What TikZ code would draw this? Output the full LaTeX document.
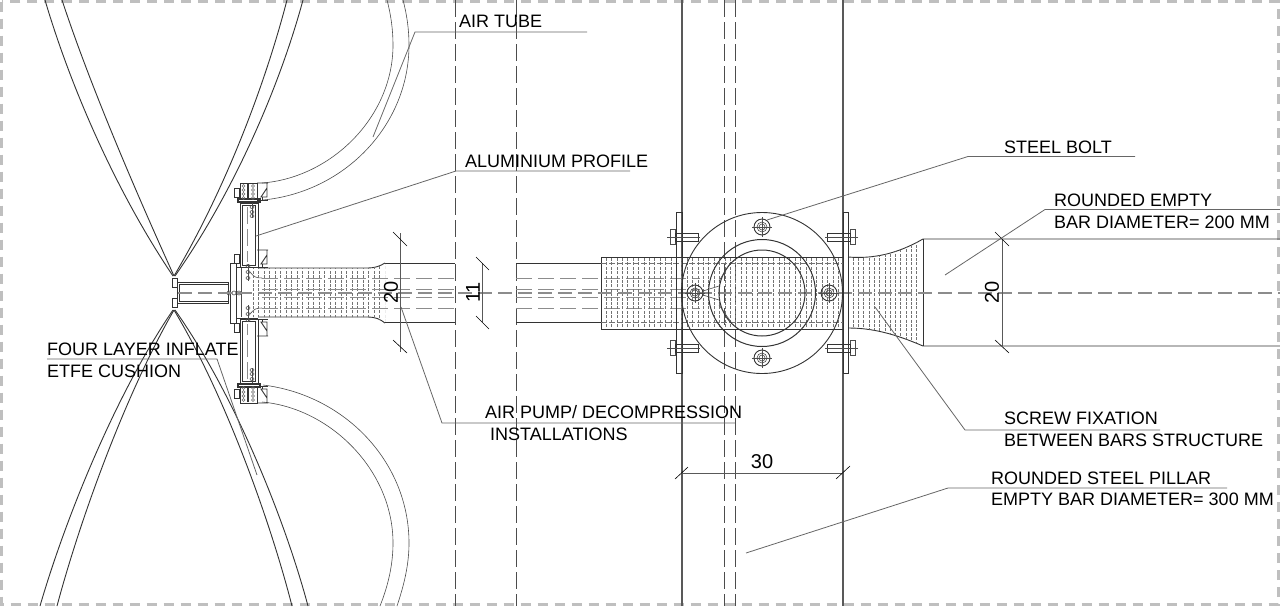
\documentclass[tikz,border=0pt]{standalone}
\usepackage{fontspec}
\setmainfont{Liberation Sans}
\usetikzlibrary{calc}

\begin{document}
\begin{tikzpicture}[
        x=1pt, y=-1pt,
        plan/.style={draw=black!80, line width=0.9pt},
        thin plan/.style={draw=black!70, line width=0.6pt},
        leader/.style={draw=black!60, line width=0.8pt},
        dimline/.style={draw=black!65, line width=1pt},
        dimtick/.style={draw=black, line width=0.6pt},
        axisline/.style={draw=black!45, line width=1.2pt, dash pattern=on 14pt off 6pt},
        hiddenline/.style={draw=black!70, line width=0.8pt, dash pattern=on 17pt off 5pt},
        barhidden/.style={draw=black!45, line width=1pt, dash pattern=on 16pt off 6pt},
        hatchline/.style={draw=black!55, line width=0.45pt, dash pattern=on 3pt off 1.4pt},
        label/.style={anchor=base west, inner sep=0pt, font=\fontsize{18}{18}\selectfont, text=black},
        dimtext/.style={inner sep=0pt, font=\fontsize{20}{20}\selectfont, text=black},
        boltmark/.pic={
            \draw[plan] (0,0) circle (8pt);
            \draw[thin plan] (0,0) circle (5pt) (0,0) circle (3pt);
            \draw[thin plan] (-10,0) -- (10,0) (0,-10) -- (0,10);
        },
        tiebolt/.pic={
            \draw[thin plan, fill=white] (-6,-8) rectangle (-1,7);
            \draw[plan] (-1,-4) rectangle (22,4);
            \draw[thin plan] (-9,0) -- (24,0);
        },
        clampset/.pic={
            % clamp with the tube ends
            \draw[plan] (240,183) rectangle (257,199);
            \draw[plan, line width=1.3pt] (238,199) -- (260,199) -- (260,202) -- (238,202) -- cycle;
            \draw[plan, line width=1.3pt] (248,184) -- (248,198);
            \draw[plan] (234,188) rectangle (239,197);
            \foreach \rowy in {186,190,194,198}
                \draw[black!60, line width=0.5pt] (243.5,\rowy) circle (1.5pt) (253,\rowy) circle (1.5pt);
            % aluminium profile
            \draw[plan] (240,203) rectangle (258,267);
            \draw[plan] (242,205) rectangle (255,265);
            \draw[hiddenline, draw=black!45, line width=1pt] (247,207) -- (247,262);
            \draw[thin plan] (252,203) -- (252,218);
            \foreach \rowy in {207,212,216}
                \draw[thin plan] (252,\rowy) ellipse (2pt and 1.5pt);
            \draw[thin plan] (248,264) -- (248,281);
            \foreach \rowy in {266,272,278}
                \draw[thin plan] (248,\rowy) ellipse (2pt and 1.5pt);
            \draw[plan] (234,254) rectangle (239,263);
            \draw[thin plan] (250,272) .. controls (254,277) and (256,278) .. (262,278);
            % angle fixings
            \foreach \fixy in {183,250} {
                \draw[plan, shift={(257,\fixy)}] (0,0) -- (11,0) (10,0) -- (10,14) -- (4,14) -- (10,5);
                \draw[plan, shift={(257,\fixy)}] (0,17) -- (11,17) (5,14) -- (5,17);
            }
        }
    ]
    \useasboundingbox (0,0) rectangle (1280,606);

    % Sheet frame
    \draw[draw=black!25, line width=3pt, dash pattern=on 10pt off 7pt] (1.5,1.5) rectangle (1278,604.5);

    % Pillar and the dashed grid lines
    \draw[plan, draw=black!65, line width=1.2pt] (682,0) -- (682,606) (843,0) -- (843,606);
    \draw[hiddenline] (724,0) -- (724,606) (735,0) -- (735,606);
    \draw[hiddenline] (455,0) -- (455,606) (516,0) -- (516,606);

    % ETFE cushion layers, upper half
    \draw[plan] (45,0) .. controls (70,85) and (115,190) .. (173,276);
    \draw[plan] (62,0) .. controls (90,85) and (135,190) .. (174,276);
    \draw[plan] (287,0) .. controls (265,85) and (225,190) .. (174,276);
    \draw[plan] (303,0) .. controls (280,85) and (235,190) .. (175,276);
    % ETFE cushion layers, lower half
    \draw[plan] (40,606) .. controls (65,520) and (115,395) .. (173,310);
    \draw[plan] (57,606) .. controls (80,520) and (125,395) .. (174,310);
    \draw[plan] (292,606) .. controls (270,520) and (225,395) .. (174,310);
    \draw[plan] (308,606) .. controls (285,520) and (235,395) .. (175,310);

    % Air tubes
    \draw[thin plan] (263,200) .. controls (345,192) and (409,125) .. (409,45) .. controls (409,30) and (407,15) .. (403,0);
    \draw[thin plan] (262,183) .. controls (330,178) and (393,118) .. (393,45) .. controls (393,30) and (391,15) .. (387,0);
    \draw[thin plan] (263,385) .. controls (345,395) and (409,462) .. (409,543) .. controls (409,565) and (404,585) .. (397,606);
    \draw[thin plan] (262,402) .. controls (330,408) and (393,470) .. (393,543) .. controls (393,565) and (388,586) .. (380,606);

    % Cushion clamp and stem
    \draw[plan] (172,278) rectangle (177,287);
    \draw[plan] (172,298) rectangle (177,307);
    \draw[plan] (177,282) rectangle (228,303);
    \draw[plan] (179,284) rectangle (228,301);

    % Base plate and profiles on both sides
    \draw[plan] (230,263) rectangle (236,323);
    \draw[plan] (236,267) -- (258,267) (236,318) -- (258,318) (236,267) -- (236,318);
    \draw[thin plan] (241,268) -- (241,317);
    \pic {clampset};
    \pic[yscale=-1] at (0,586) {clampset};
    \foreach \boltx in {229,234,239}
        \draw[thin plan] (\boltx,293) circle (2pt);

    % Bar ends on the left, up to the grid line
    \draw[plan] (258,268) -- (368,268) .. controls (375,268) and (380,266) .. (385,263);
    \draw[plan] (258,317) -- (368,317) .. controls (375,317) and (380,319) .. (385,323);
    \draw[plan] (385,263) -- (455,263) (385,322) -- (455,322);
    \draw[plan] (516,263) -- (601,263) (516,322) -- (601,322);
    \begin{scope}
        \clip (250,268) -- (368,268) .. controls (375,268) and (380,266) .. (385,263)
              -- (385,323) .. controls (380,319) and (375,317) .. (368,317) -- (250,317) -- cycle;
        \foreach \hatchx in {253,258.5,...,385}
            \draw[hatchline] (\hatchx,262) -- (\hatchx,324);
    \end{scope}
    \foreach \rowy in {278,289,297,308} {
        \draw[barhidden] (262,\rowy) -- (455,\rowy);
        \draw[barhidden] (516,\rowy) -- (700,\rowy);
    }

    % Middle bar block at the pillar
    \draw[plan] (843,257) -- (601,257) -- (601,329) -- (843,329);
    \foreach \hatchx in {606,611.4,...,843}
        \draw[hatchline] (\hatchx,258) -- (\hatchx,328);
    \foreach \rowy in {263,322}
        \draw[hatchline, dash pattern=on 6pt off 2pt] (601,\rowy) -- (843,\rowy);

    % Right bar with its flare
    \draw[plan] (848,257) .. controls (873,259) and (897,254) .. (923,239) -- (1280,239);
    \draw[plan] (848,328) .. controls (873,328) and (895,334) .. (923,346) -- (1280,346);
    \draw[plan] (923,239) -- (923,346);
    \begin{scope}
        \clip (848,257) .. controls (873,259) and (897,254) .. (923,239) -- (923,346)
              .. controls (895,334) and (873,328) .. (848,328) -- cycle;
        \foreach \hatchx in {853,858.3,...,921}
            \draw[hatchline] (\hatchx,236) -- (\hatchx,349);
    \end{scope}

    % Centre axis
    \draw[axisline] (178,293) -- (1280,293);

    % Flange with ring and bolts
    \draw[plan] (762,293) circle (80.5pt);
    \draw[plan, line width=1pt] (762,293) circle (53.5pt) (762,293) circle (43pt);
    \pic at (762,227) {boltmark};
    \pic at (762,358) {boltmark};
    \pic at (695,293) {boltmark};
    \pic at (829,293) {boltmark};
    \draw[thin plan] (703,291) -- (719,286) (703,295) -- (719,300);
    \draw[thin plan] (719,281) -- (731,262) (719,305) -- (731,322);

    % Side plates with tie bolts
    \draw[plan] (676,212) rectangle (682,373);
    \draw[plan] (843,212) rectangle (848.5,373);
    \pic at (676,237) {tiebolt};
    \pic at (676,348) {tiebolt};
    \pic[xscale=-1] at (849,237) {tiebolt};
    \pic[xscale=-1] at (849,348) {tiebolt};

    % Dimensions
    \coordinate (dimA1) at (400,233);
    \coordinate (dimA2) at (400,352);
    \draw[dimline] (dimA1) -- (dimA2);
    \draw[dimtick] (393,232) -- (407,246) (393,340) -- (407,353);
    \node[dimtext, rotate=90] (dimAtext) at (391,292.5) {20};

    \coordinate (dimB1) at (482,263);
    \coordinate (dimB2) at (482,322);
    \draw[dimline] (dimB1) -- (dimB2);
    \draw[dimtick] (476,257) -- (489,270) (476,316) -- (489,329);
    \node[dimtext, rotate=90] (dimBtext) at (473,292.5) {11};

    \coordinate (dimC1) at (1002,239);
    \coordinate (dimC2) at (1002,346);
    \draw[dimline] (dimC1) -- (dimC2);
    \draw[dimtick] (995,232) -- (1009,246) (995,340) -- (1009,353);
    \node[dimtext, rotate=90] (dimCtext) at (992,292.5) {20};

    \coordinate (dimD1) at (682,473);
    \coordinate (dimD2) at (843,473);
    \draw[dimline] (dimD1) -- (dimD2);
    \draw[dimtick] (675,479) -- (688,467) (836,479) -- (850,466);
    \node[dimtext] (dimDtext) at (762,462) {30};

    % Labels
    \node[label] (tubeLabel) at (459,27) {AIR TUBE};
    \node[label] (profileLabel) at (465,167) {ALUMINIUM PROFILE};
    \node[label] (boltLabel) at (1004,153) {STEEL BOLT};
    \node[label] (barLabelA) at (1054,206) {ROUNDED EMPTY};
    \node[label] (barLabelB) at (1054,228) {BAR DIAMETER= 200 MM};
    \node[label] (cushionLabelA) at (47,355) {FOUR LAYER INFLATE};
    \node[label] (cushionLabelB) at (47,377) {ETFE CUSHION};
    \node[label] (pumpLabelA) at (485,418) {AIR PUMP/ DECOMPRESSION};
    \node[label] (pumpLabelB) at (490,440) {INSTALLATIONS};
    \node[label] (screwLabelA) at (1004,424) {SCREW FIXATION};
    \node[label] (screwLabelB) at (1004,446) {BETWEEN BARS STRUCTURE};
    \node[label] (pillarLabelA) at (991,484) {ROUNDED STEEL PILLAR};
    \node[label] (pillarLabelB) at (991,505) {EMPTY BAR DIAMETER= 300 MM};

    % Leader lines
    \coordinate (tubeEnd) at (373,137);
    \coordinate (tubeBend) at (415,32);
    \coordinate (tubeTail) at (587,32);
    \draw[leader] (tubeEnd) -- (tubeBend) -- (tubeTail);

    \coordinate (profileEnd) at (256,236);
    \coordinate (profileBend) at (456,171);
    \coordinate (profileTail) at (630,171);
    \draw[leader] (profileEnd) -- (profileBend) -- (profileTail);

    \coordinate (boltEnd) at (767,220);
    \coordinate (boltBend) at (968,156.5);
    \coordinate (boltTail) at (1135,156.5);
    \draw[leader] (boltEnd) -- (boltBend) -- (boltTail);

    \coordinate (barEnd) at (945,275);
    \coordinate (barBend) at (1045,209.5);
    \coordinate (barTail) at (1280,209.5);
    \draw[leader] (barEnd) -- (barBend) -- (barTail);

    \coordinate (cushionTail) at (47,359);
    \coordinate (cushionBend) at (217,359);
    \coordinate (cushionEnd) at (257,475);
    \draw[leader] (cushionTail) -- (cushionBend) -- (cushionEnd);

    \coordinate (pumpEnd) at (401,307);
    \coordinate (pumpBend) at (442,423);
    \coordinate (pumpTail) at (735,423);
    \draw[leader] (pumpEnd) -- (pumpBend) -- (pumpTail);

    \coordinate (screwEnd) at (875,307);
    \coordinate (screwBend) at (965,430);
    \coordinate (screwTail) at (1160,430);
    \draw[leader] (screwEnd) -- (screwBend) -- (screwTail);

    \coordinate (pillarEnd) at (746,553);
    \coordinate (pillarBend) at (948,488);
    \coordinate (pillarTail) at (1227,488);
    \draw[leader] (pillarEnd) -- (pillarBend) -- (pillarTail);

\end{tikzpicture}
\end{document}
